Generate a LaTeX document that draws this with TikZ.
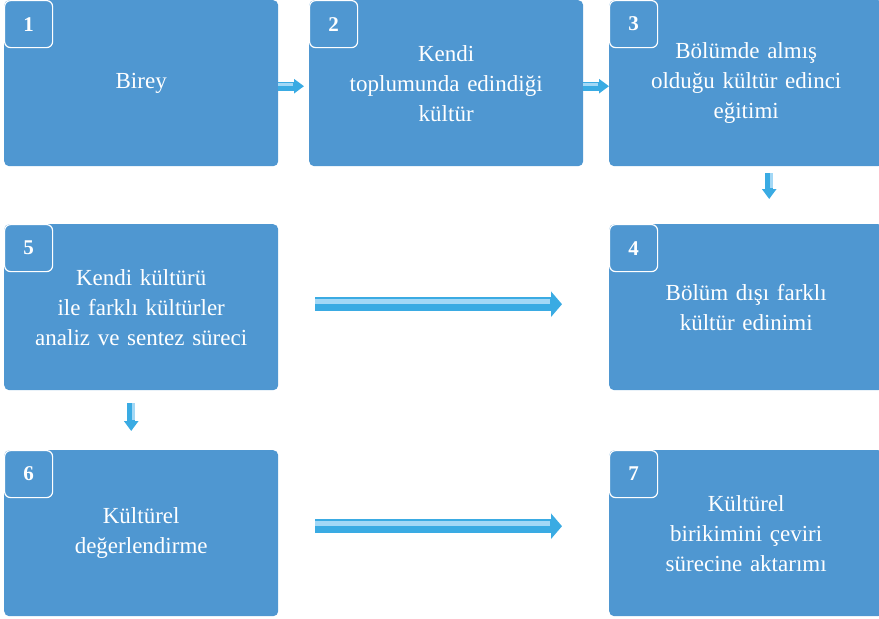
\documentclass[tikz,border=0pt]{standalone}
\usepackage{fontspec}
\setmainfont{Liberation Serif}
\usetikzlibrary{matrix,positioning,arrows.meta}
\definecolor{boxblue}{RGB}{79,151,209}
\definecolor{arrowdark}{RGB}{58,171,227}
\definecolor{arrowlight}{RGB}{163,216,246}

\begin{document}
\begin{tikzpicture}[x=1pt, y=1pt,
  box/.style={fill=boxblue, rounded corners=5pt, text=white, text width=250pt, inner sep=12pt,
    minimum height=166pt, align=center, anchor=center, font=\fontsize{23}{30}\selectfont},
  badge/.style={draw=white, line width=1.2pt, rounded corners=6pt, minimum width=48pt,
    minimum height=47pt, inner sep=0pt, anchor=north west, text=white,
    font=\fontsize{21}{24}\selectfont\bfseries},
  smallflow/.style 2 args={draw=arrowdark, line width=9pt, shorten <=#1, shorten >=#2,
    -{Triangle[length=10pt,width=14pt]},
    postaction={draw=arrowlight, -, line width=3pt, shorten >=#2+11pt, transform canvas={yshift=2pt}}},
  downflow/.style 2 args={draw=arrowdark, line width=8pt, shorten <=#1, shorten >=#2,
    -{Triangle[length=10pt,width=14pt]},
    postaction={draw=arrowlight, -, line width=3pt, shorten >=#2+11pt, transform canvas={xshift=2pt}}},
  longflow/.style={draw=arrowdark, line width=14pt, shorten <=37pt, shorten >=47pt,
    -{Triangle[length=11pt,width=25pt]},
    postaction={draw=arrowlight, -, line width=5pt, shorten >=59pt, transform canvas={yshift=3pt}}}]
  \useasboundingbox (0,0) rectangle (879,-619);

  \matrix (m) [matrix of nodes, nodes={box}, row sep=58pt, column sep=26pt, inner sep=0pt,
    anchor=north west] at (4,0)
  {
    {Birey} &[5pt] {Kendi\\toplumunda edindiği\\kültür} & {Bölümde almış\\olduğu kültür edinci\\eğitimi} \\
    {Kendi kültürü\\ile farklı kültürler\\analiz ve sentez süreci} &[5pt] & {Bölüm dışı farklı\\kültür edinimi} \\[2pt]
    {Kültürel\\değerlendirme} &[5pt] & {Kültürel\\birikimini çeviri\\sürecine aktarımı} \\
  };

  % numbers
  \node[badge] (b1) at (m-1-1.north west) {1};
  \node[badge] (b2) at (m-1-2.north west) {2};
  \node[badge] (b3) at (m-1-3.north west) {3};
  \node[badge] (b4) at (m-2-3.north west) {4};
  \node[badge] (b5) at (m-2-1.north west) {5};
  \node[badge] (b6) at (m-3-1.north west) {6};
  \node[badge] (b7) at (m-3-3.north west) {7};

  % flow
  \draw[smallflow={0pt}{5pt}] ([yshift=-3pt]m-1-1.east) -- ([yshift=-3pt]m-1-2.west);
  \draw[smallflow={0pt}{0pt}] ([yshift=-3pt]m-1-2.east) -- ([yshift=-3pt]m-1-3.west);
  \draw[downflow={7pt}{25pt}] ([xshift=23pt]m-1-3.south) -- ([xshift=23pt]m-2-3.north);
  \draw[longflow] ([yshift=3pt]m-2-1.east) -- ([yshift=3pt]m-2-3.west);
  \draw[downflow={13pt}{19pt}] ([xshift=-10pt]m-2-1.south) -- ([xshift=-10pt]m-3-1.north);
  \draw[longflow] ([yshift=7pt]m-3-1.east) -- ([yshift=7pt]m-3-3.west);
\end{tikzpicture}
\end{document}
